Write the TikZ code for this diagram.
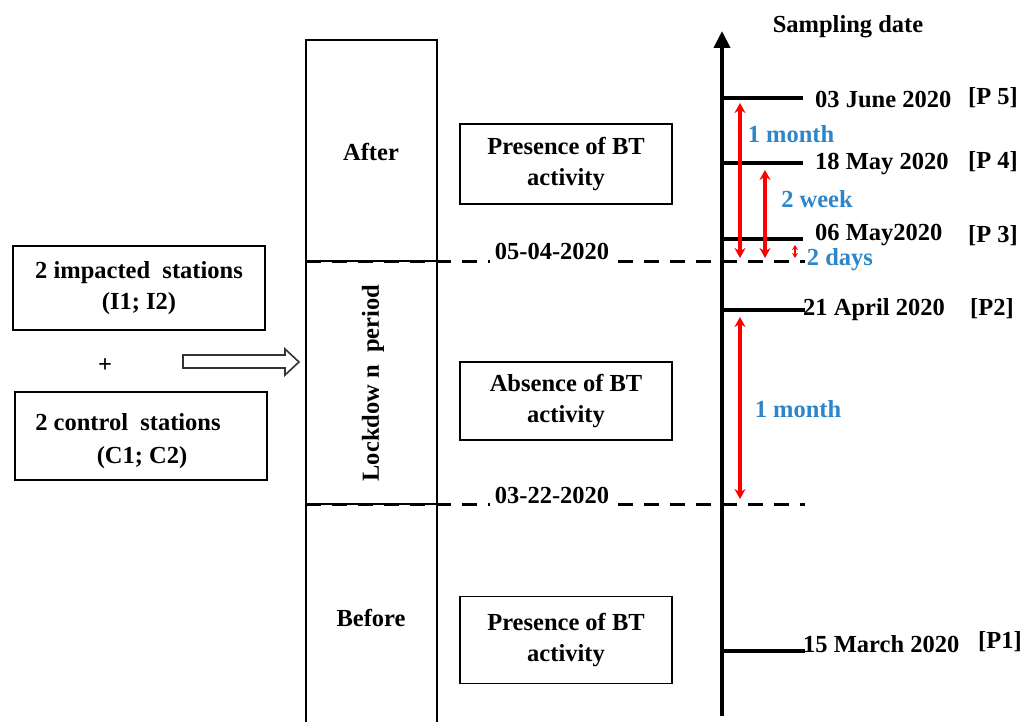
\documentclass[tikz,border=0pt]{standalone}
\usepackage{fontspec}
\setmainfont{Liberation Serif}
\usetikzlibrary{arrows.meta}
\definecolor{lblblue}{RGB}{46,134,200}
\definecolor{arrred}{RGB}{255,0,0}
\tikzset{
  txt/.style={font=\fontsize{24.5}{31}\selectfont\bfseries, inner sep=0pt, align=center},
  box/.style={draw, line width=1.5pt, txt},
  thin/.style={line width=1.5pt},
  tick/.style={line width=4pt},
  dashline/.style={line width=3pt, dash pattern=on 15pt off 11pt},
  redarr/.style={arrred, line width=3.5pt, {Stealth[length=10pt,width=11pt]}-{Stealth[length=10pt,width=11pt]}},
  bluelbl/.style={txt, text=lblblue},
  datelbl/.style={txt, anchor=west},
}
\begin{document}
\begin{tikzpicture}[x=1pt,y=-1pt]
\useasboundingbox (0,0) rectangle (1024,722);
\fill[white] (0,0) rectangle (1024,722);

% left boxes
\node[box, minimum width=252pt, minimum height=84pt] (imp) at (139,288) {2 impacted\ \ stations\\(I1; I2)};
\node[txt] (plus) at (105,366) {+};
\node[box, minimum width=252pt, minimum height=88pt] (ctl) at (141,436) {};
\node[txt] (ctl1) at (128,422) {2 control\ \ stations};
\node[txt] (ctl2) at (142,458) {(C1; C2)};

% hollow arrow
\draw[line width=1.6pt, draw=black!80, fill=white] (183,355) -- (285,355) -- (285,349) -- (299,362) -- (285,375) -- (285,368) -- (183,368) -- cycle;

% column
\draw[thin] (306,722) -- (306,40) -- (437,40) -- (437,722);
\draw[thin] (306,261) -- (437,261);
\draw[thin] (306,504) -- (437,504);
\node[txt] (after) at (371,152) {After};
\node[txt, rotate=90] (lock) at (373,383) {Lockdow n\ \ period};
\node[txt] (before) at (371,618) {Before};

% dashed lines
\coordinate (d1a) at (306,261);
\coordinate (d1b) at (805,261);
\coordinate (d2a) at (306,504);
\coordinate (d2b) at (805,504);
\draw[dashline] (d1a) -- (d1b);
\draw[dashline] (d2a) -- (d2b);
\node[txt, fill=white, inner xsep=5pt, inner ysep=7pt] (date1) at (552,251) {05-04-2020};
\node[txt, fill=white, inner xsep=5pt, inner ysep=7pt] (date2) at (552,495) {03-22-2020};

% activity boxes
\node[box, minimum width=212pt, minimum height=80pt] (pb1) at (566,164) {Presence of BT\\activity};
\node[box, minimum width=212pt, minimum height=78pt] (ab) at (566,401) {Absence of BT\\activity};
\node[box, minimum width=212pt, minimum height=87pt] (pb2) at (566,640) {Presence\ of BT\\activity};

% timeline
\coordinate (ax0) at (722,716);
\coordinate (ax1) at (722,31);
\draw[line width=4pt, -{Triangle[length=17pt,width=16pt]}] (ax0) -- (ax1);
\node[txt] (samp) at (848,27) {Sampling date};

\coordinate (t5) at (720,98);  \coordinate (t5e) at (803,98);
\coordinate (t4) at (720,163); \coordinate (t4e) at (803,163);
\coordinate (t3) at (720,239); \coordinate (t3e) at (803,239);
\coordinate (t2) at (720,310); \coordinate (t2e) at (805,310);
\coordinate (t1) at (720,651); \coordinate (t1e) at (805,651);
\draw[tick] (t5) -- (t5e);
\draw[tick] (t4) -- (t4e);
\draw[tick] (t3) -- (t3e);
\draw[tick] (t2) -- (t2e);
\draw[tick] (t1) -- (t1e);

\node[datelbl] (l5) at (815,100) {03 June 2020};
\node[datelbl] (p5) at (968,98) {[P 5]};
\node[datelbl] (l4) at (815,164) {18 May 2020};
\node[datelbl] (p4) at (968,162) {[P 4]};
\node[datelbl] (l3) at (815,235) {06 May2020};
\node[datelbl] (p3) at (968,236) {[P 3]};
\node[datelbl] (l2) at (803,310) {21 April 2020};
\node[datelbl] (p2) at (970,309) {[P2]};
\node[datelbl] (l1) at (803,644) {15 March 2020};
\node[datelbl] (p1) at (978,642) {[P1]};

% red arrows
\coordinate (r1a) at (740,103); \coordinate (r1b) at (740,258);
\coordinate (r2a) at (765,170); \coordinate (r2b) at (765,258);
\coordinate (r3a) at (795,245); \coordinate (r3b) at (795,258);
\coordinate (r4a) at (740,317); \coordinate (r4b) at (740,499);
\draw[redarr] (r1a) -- (r1b);
\draw[redarr] (r2a) -- (r2b);
\draw[arrred, line width=2pt, {Stealth[length=5pt,width=6pt]}-{Stealth[length=5pt,width=6pt]}] (r3a) -- (r3b);
\draw[redarr] (r4a) -- (r4b);

\node[bluelbl] (m1) at (791,134) {1 month};
\node[bluelbl] (w2) at (817,199) {2 week};
\node[bluelbl] (d2) at (840,260) {2 days};
\node[bluelbl] (m2) at (798,409) {1 month};
\end{tikzpicture}
\end{document}
